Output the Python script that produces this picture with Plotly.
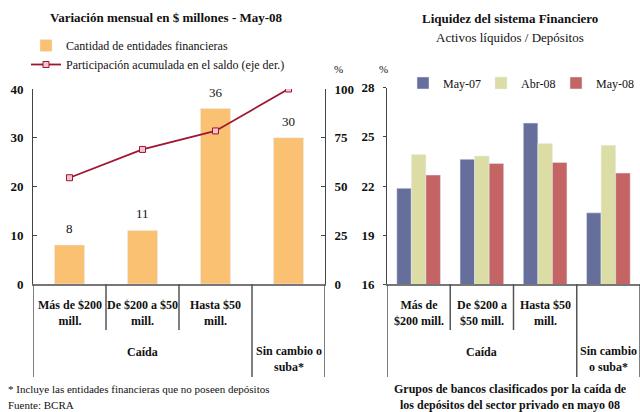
import plotly.graph_objects as go

# ---- data ----
left_cats = ["Más de $200 mill.", "De $200 a $50 mill.", "Hasta $50 mill.", "Sin cambio o suba*"]
left_inner_labels = ["Más de $200<br>mill.", "De $200 a $50<br>mill.", "Hasta $50<br>mill.", ""]
entidades = [8, 11, 36, 30]
participacion = [54.5, 69, 78.5, 100]

right_cats = ["Más de $200 mill.", "De $200 a $50 mill.", "Hasta $50 mill.", "Sin cambio o suba*"]
right_inner_labels = ["Más de<br>$200 mill.", "De $200 a<br>$50 mill.", "Hasta $50<br>mill.", ""]
series_names = ["May-07", "Abr-08", "May-08"]
may07 = [21.86, 23.63, 25.84, 20.36]
abr08 = [23.93, 23.83, 24.6, 24.48]
may08 = [22.67, 23.38, 23.44, 22.79]

W, H = 640, 412
FONT = "Liberation Serif"


def px(x):
    return x / W


def py(y):
    return 1 - y / H


fig = go.Figure()

fig.add_trace(go.Bar(x=left_cats, y=entidades, name="Cantidad de entidades financieras",
                     marker_color="#FAC172", width=0.41, xaxis="x", yaxis="y", legend="legend"))
fig.add_trace(go.Scatter(x=left_cats, y=participacion, name="Participación acumulada en el saldo (eje der.)",
                         mode="lines+markers", line=dict(color="#9E1631", width=1.8),
                         marker=dict(symbol="square", size=6, color="#F2C4CC",
                                     line=dict(color="#9E1631", width=1)),
                         xaxis="x", yaxis="y2", legend="legend"))

right_colors = ["#666F9C", "#DCDDA5", "#C46464"]
right_legends = ["legend2", "legend3", "legend4"]
for name, vals, col, lg in zip(series_names, [may07, abr08, may08], right_colors, right_legends):
    fig.add_trace(go.Bar(x=right_cats, y=vals, name=name, marker_color=col,
                         xaxis="x2", yaxis="y3", legend=lg))

legend_style = dict(bgcolor="rgba(0,0,0,0)", font=dict(family=FONT, size=12, color="#111"), itemwidth=30)

fig.update_layout(
    width=W, height=H, margin=dict(l=0, r=0, t=0, b=0, autoexpand=False),
    paper_bgcolor="white", plot_bgcolor="white",
    font=dict(family=FONT, size=12, color="#111"),
    barmode="group", bargap=0.31, bargroupgap=0,
    xaxis=dict(domain=[px(33), px(325)], anchor="y", showticklabels=False, ticks="",
               showline=True, linecolor="#777", linewidth=2, range=[-0.5, 3.5]),
    yaxis=dict(domain=[py(284), py(89)], anchor="x", range=[0, 40], dtick=10, showgrid=False,
               zeroline=False, showline=True, linecolor="#444", linewidth=1,
               ticks="inside", ticklen=4, tickcolor="#444",
               tickfont=dict(family=FONT, size=13, color="#111", weight="bold"), ticklabelstandoff=6),
    yaxis2=dict(domain=[py(284), py(89)], anchor="x", overlaying="y", side="right",
                range=[0, 100], dtick=25, showgrid=False, zeroline=False,
                showline=True, linecolor="#444", linewidth=1, ticks="inside", ticklen=4,
                tickcolor="#444", tickfont=dict(family=FONT, size=13, color="#111", weight="bold"),
                ticklabelstandoff=6),
    xaxis2=dict(domain=[px(387), 1.0], anchor="y3", showticklabels=False, ticks="",
                showline=True, linecolor="#777", linewidth=2, range=[-0.5, 3.5]),
    yaxis3=dict(domain=[py(284.3), py(87.7)], anchor="x2", range=[16, 28], tick0=16, dtick=3,
                showgrid=False, zeroline=False, showline=True, linecolor="#444", linewidth=1,
                ticks="outside", ticklen=3, tickcolor="#444",
                tickfont=dict(family=FONT, size=13, color="#111", weight="bold"), ticklabelstandoff=6),
    legend=dict(x=px(26), y=py(31), xanchor="left", yanchor="top", orientation="v",
                tracegroupgap=0, **legend_style),
    legend2=dict(x=px(403), y=py(83), xanchor="left", yanchor="middle", **legend_style),
    legend3=dict(x=px(481), y=py(83), xanchor="left", yanchor="middle", **legend_style),
    legend4=dict(x=px(556), y=py(83), xanchor="left", yanchor="middle", **legend_style),
    showlegend=True,
)

ann = []
shapes = []


def text(t, x, y, size=12, xref="paper", yref="paper", xanchor="center", yanchor="middle", **kw):
    ann.append(dict(text=t, x=x, y=y, xref=xref, yref=yref, xanchor=xanchor, yanchor=yanchor,
                    showarrow=False, font=dict(family=FONT, size=size, color="#111"), **kw))


# titles
text("<b>Variación mensual en $ millones - May-08</b>", px(166), py(18), 13)
text("<b>Liquidez del sistema Financiero</b>", px(510), py(19), 13)
text("Activos líquidos / Depósitos", px(510), py(38), 13)
text("%", px(338), py(69), 11)
text("%", px(383), py(69), 11)

# bar value labels
for c, v in zip(left_cats, entidades):
    text(str(v), c, v, 13, xref="x", yref="y", yanchor="bottom", yshift=7)

# category labels & separators
for xr, labels, sin_text in [
    ("x", left_inner_labels, "Sin cambio o<br>suba*"),
    ("x2", right_inner_labels, "Sin cambio<br>o suba*"),
]:
    for i, lab in enumerate(labels):
        if lab:
            text("<b>" + lab + "</b>", i, py(313), 12, xref=xr)
    text("<b>Caída</b>", 1.0, py(352), 12, xref=xr)
    text("<b>" + sin_text + "</b>", 3.0, py(359), 12, xref=xr)
    for b in [-0.5, 0.5, 1.5, 2.5, 3.5]:
        end = 377 if b in (-0.5, 2.5, 3.5) else 330
        shapes.append(dict(type="line", xref=xr, yref="paper", x0=b, x1=b, y0=py(284), y1=py(end),
                           line=dict(color="#555", width=1.5)))

text("* Incluye las entidades financieras que no poseen depósitos", px(6), py(389), 11, xanchor="left")
text("Fuente: BCRA", px(6), py(405), 11, xanchor="left")
text("<b>Grupos de bancos clasificados por la caída de<br>los depósitos del sector privado en mayo 08</b>",
     px(510), py(396.5), 12)

fig.update_layout(annotations=ann, shapes=shapes)
fig.write_html("out.html", config={"displayModeBar": False},
               post_script="document.body.style.margin='0';")
